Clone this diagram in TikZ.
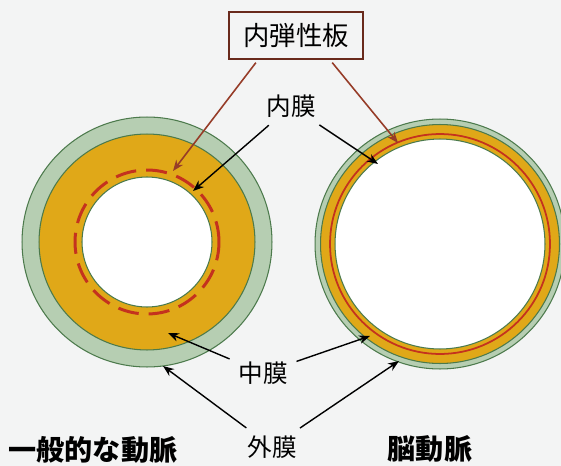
\documentclass[tikz,border=0pt]{standalone}
\usepackage{fontspec}
\setmainfont{Noto Sans CJK JP}
\usetikzlibrary{arrows.meta}

\definecolor{media}{RGB}{224,168,24}
\definecolor{adventitia}{RGB}{182,206,178}
\definecolor{elastica}{RGB}{196,50,30}
\definecolor{leader}{RGB}{150,60,40}
\definecolor{paper}{RGB}{243,244,244}

\begin{document}
\begin{tikzpicture}[x=0.02cm, y=-0.02cm,
        layer/.style={draw=black!55!green!40!gray, line width=0.6pt},
        tag/.style={font=\fontsize{14}{14}\selectfont, inner sep=3pt},
        title/.style={font=\fontsize{16}{16}\selectfont\bfseries},
        namebox/.style={draw=leader!70!black, line width=1pt, minimum width=2.68cm, minimum height=0.94cm, font=\fontsize{15}{15}\selectfont},
        pointer/.style={-{Stealth[length=2.2mm,width=1.7mm]}, line width=0.8pt, shorten <=2pt},
        redpointer/.style={pointer, draw=leader, line width=0.9pt},
    ]
    \useasboundingbox (0,0) rectangle (561,466);
    \fill[paper] (0,0) rectangle (561,466);

    % ordinary artery
    \filldraw[layer, fill=adventitia] (147,242) circle[radius=2.5cm];
    \filldraw[layer, fill=media]      (147,242) circle[radius=2.16cm];
    \filldraw[layer, fill=white]      (147,242) circle[radius=1.3cm];
    \draw[elastica, line width=1.7pt, dash pattern=on 0.42cm off 0.2cm] (147,242) circle[radius=1.44cm];

    % cerebral artery
    \filldraw[layer, fill=adventitia] (440,244) circle[radius=2.5cm];
    \filldraw[layer, fill=media]      (440,244) circle[radius=2.39cm];
    \draw[elastica, line width=1pt]   (440,244) circle[radius=2.2cm];
    \filldraw[layer, fill=white]      (440,244) circle[radius=2.1cm];

    \coordinate (L-lamina)     at (173,171);
    \coordinate (L-intima)     at (193,191);
    \coordinate (L-media)      at (168,333);
    \coordinate (L-adventitia) at (163,366);
    \coordinate (R-lamina)     at (398,143);
    \coordinate (R-intima)     at (378,164);
    \coordinate (R-media)      at (370,336);
    \coordinate (R-adventitia) at (399,361);

    \node[namebox] (lamina) at (296,35.5) {内弾性板};
    \node[tag] (intima)     at (291,106) {内膜};
    \node[tag] (tunica)     at (263,373) {中膜};
    \node[tag] (externa)    at (272,447) {外膜};
    \node[title] (ordinary) at (93,450)  {一般的な動脈};
    \node[title] (cerebral) at (430,449) {脳動脈};

    \draw[redpointer] ([xshift=-0.76cm]lamina.south) -- (L-lamina);
    \draw[redpointer] ([xshift=0.68cm]lamina.south)  -- (R-lamina);
    \draw[pointer] (intima)  -- (L-intima);
    \draw[pointer] (intima)  -- (R-intima);
    \draw[pointer] (tunica)  -- (L-media);
    \draw[pointer] (tunica)  -- (R-media);
    \draw[pointer] (externa) -- (L-adventitia);
    \draw[pointer] (externa) -- (R-adventitia);
\end{tikzpicture}
\end{document}
